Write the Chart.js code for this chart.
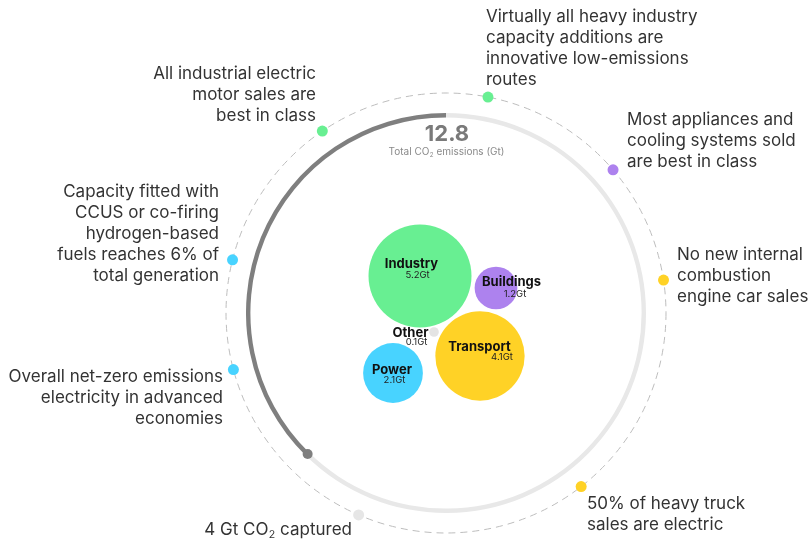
<!DOCTYPE html>
<html><head><meta charset="utf-8">
<script src="https://cdn.jsdelivr.net/npm/chart.js@4/dist/chart.umd.min.js"></script>
<style>
html,body{margin:0;padding:0;background:#fff;}
#wrap{position:relative;width:808px;height:541px;overflow:hidden;}
#ring{position:absolute;left:246px;top:113px;}
#main{position:absolute;left:0;top:0;}
</style></head><body>
<div id="wrap"><canvas id="ring" width="400" height="400"></canvas><canvas id="main" width="808" height="541"></canvas></div>
<script>
// ---------- DATA ----------
const sectors = ['Industry', 'Buildings', 'Transport', 'Power', 'Other'];
const sectorEmissions = [5.2, 1.2, 4.1, 2.1, 0.1];           // Gt CO2
const totalEmissions = 12.8;                                 // Gt CO2
const referenceEmissions = 34.0;                             // full ring, Gt CO2
const milestoneTexts = [
  ['All industrial electric', 'motor sales are', 'best in class'],
  ['Virtually all heavy industry', 'capacity additions are', 'innovative low-emissions', 'routes'],
  ['Most appliances and', 'cooling systems sold', 'are best in class'],
  ['No new internal', 'combustion', 'engine car sales'],
  ['50% of heavy truck', 'sales are electric'],
  ['4 Gt CO\u2082 captured'],
  ['Overall net-zero emissions', 'electricity in advanced', 'economies'],
  ['Capacity fitted with', 'CCUS or co-firing', 'hydrogen-based', 'fuels reaches 6% of', 'total generation']
];
const milestoneSector = ['Industry', 'Industry', 'Buildings', 'Transport', 'Transport', 'CCUS', 'Power', 'Power'];

// ---------- LAYOUT / STYLE ----------
const sectorColors = {Industry:'#68ef92', Buildings:'#ad82ee', Transport:'#ffd226', Power:'#48d3ff', Other:'#e4e4e4', CCUS:'#e6e6e6'};
const bubbleCenters = [[-26, 37], [50, 25], [34, -43], [-53, -60], [-12, -19]];   // chart units, y up
const labelOffsets = [ // [nameDx, nameDy, valueDx, valueDy] in px, screen coords
  [-8.5, -12, -2.5, -1], [15.5, -6, 19, 6], [-0.5, -9, 22, 1], [-1, -3, 1.5, 7], [-23.5, 1, -17.5, 10]
];
const milestoneAngles = [325.8, 11.0, 49.4, 81.4, 142.1, 203.4, 255.1, 284.0]; // deg clockwise from top
const milestoneLabelPos = [ // [x, firstLineY, align]
  [316, 74, 'right'], [486, 17, 'left'], [627, 120, 'left'], [677, 255, 'left'],
  [587, 504, 'left'], [352, 530, 'right'], [223, 377, 'right'], [219, 192, 'right']
];
const DASH_R = 220, RING_R = 197.5;
const FONT = 'Inter, "Open Sans", sans-serif';

function bubbleRadius(v) { return 19.15 * Math.pow(v, 0.6); }
function polar(angleDeg, r) { const a = angleDeg * Math.PI / 180; return {x: r * Math.sin(a), y: r * Math.cos(a)}; }

// draw text where '\u2082' renders as a subscript 2
function drawRich(ctx, text, x, y, size, weight, color, align) {
  const parts = text.split('\u2082');
  const base = weight + ' ' + size + 'px ' + FONT;
  const sub = weight + ' ' + (size * 0.62) + 'px ' + FONT;
  ctx.font = base; let w = 0; const ws = [];
  parts.forEach((p, i) => { ctx.font = base; const pw = ctx.measureText(p).width; ws.push(pw); w += pw; if (i < parts.length - 1) { ctx.font = sub; w += ctx.measureText('2').width + 0.5; } });
  let cx = align === 'right' ? x - w : (align === 'center' ? x - w / 2 : x);
  ctx.fillStyle = color; ctx.textAlign = 'left'; ctx.textBaseline = 'middle';
  parts.forEach((p, i) => {
    ctx.font = base; ctx.fillText(p, cx, y); cx += ws[i];
    if (i < parts.length - 1) { ctx.font = sub; ctx.fillText('2', cx + 0.3, y + size * 0.28); cx += ctx.measureText('2').width + 0.5; }
  });
}

// ---------- RING (doughnut) ----------
new Chart(document.getElementById('ring'), {
  type: 'doughnut',
  data: { labels: ['Reduced', 'Remaining'], datasets: [{ data: [referenceEmissions - totalEmissions, totalEmissions], backgroundColor: ['#e8e8e8', '#7f7f7f'], borderWidth: 0 }] },
  options: { responsive: false, animation: false, events: [], cutout: '97.8%', rotation: 0, layout: { padding: 0 },
    plugins: { legend: { display: false }, tooltip: { enabled: false } } }
});

// ---------- MAIN ----------
const overlay = {
  id: 'overlay',
  beforeDatasetsDraw(chart) {
    const ctx = chart.ctx, xs = chart.scales.x, ys = chart.scales.y;
    const cx = xs.getPixelForValue(0), cy = ys.getPixelForValue(0);
    const r = xs.getPixelForValue(DASH_R) - cx;
    ctx.save(); ctx.strokeStyle = '#bdbdbd'; ctx.lineWidth = 1; ctx.setLineDash([7, 5]);
    ctx.beginPath(); ctx.arc(cx, cy, r, 0, Math.PI * 2); ctx.stroke(); ctx.restore();
  },
  afterDatasetsDraw(chart) {
    const ctx = chart.ctx, xs = chart.scales.x, ys = chart.scales.y;
    ctx.save();
    const cx = xs.getPixelForValue(0);
    drawRich(ctx, totalEmissions.toFixed(1), cx + 1, 134, 22, 'bold', '#7a7a7a', 'center');
    drawRich(ctx, 'Total CO\u2082 emissions (Gt)', cx + 0.5, 152, 10, 'normal', '#8a8a8a', 'center');
    sectors.forEach((s, i) => {
      const px = xs.getPixelForValue(bubbleCenters[i][0]), py = ys.getPixelForValue(bubbleCenters[i][1]);
      const o = labelOffsets[i];
      drawRich(ctx, s, px + o[0], py + o[1], 13, 'bold', '#111', 'center');
      drawRich(ctx, sectorEmissions[i].toFixed(1) + 'Gt', px + o[2], py + o[3], 9.5, 'normal', '#222', 'center');
    });
    milestoneTexts.forEach((lines, i) => {
      const p = milestoneLabelPos[i];
      lines.forEach((t, j) => drawRich(ctx, t, p[0], p[1] + j * 21, 17, 'normal', '#333', p[2]));
    });
    ctx.restore();
  }
};

const endPt = polar(360 * (1 - totalEmissions / referenceEmissions), RING_R);

new Chart(document.getElementById('main'), {
  type: 'bubble',
  data: { datasets: [
    { label: 'Sectors', data: sectors.map((s, i) => ({ x: bubbleCenters[i][0], y: bubbleCenters[i][1], r: bubbleRadius(sectorEmissions[i]) })),
      backgroundColor: sectors.map(s => sectorColors[s]), borderWidth: 0 },
    { type: 'scatter', label: 'Milestones', data: milestoneAngles.map(a => polar(a, DASH_R)),
      pointRadius: 5.5, backgroundColor: milestoneSector.map(s => sectorColors[s]), borderWidth: 0 },
    { type: 'scatter', label: 'Arc end', data: [endPt], pointRadius: 5, backgroundColor: '#7f7f7f', borderWidth: 0 }
  ] },
  options: {
    responsive: false, animation: false, events: [], layout: { padding: 0, autoPadding: false },
    scales: { x: { type: 'linear', min: -446, max: 362, display: false }, y: { type: 'linear', min: -228, max: 313, display: false } },
    plugins: { legend: { display: false }, tooltip: { enabled: false } }
  },
  plugins: [overlay]
});
</script>
</body></html>
